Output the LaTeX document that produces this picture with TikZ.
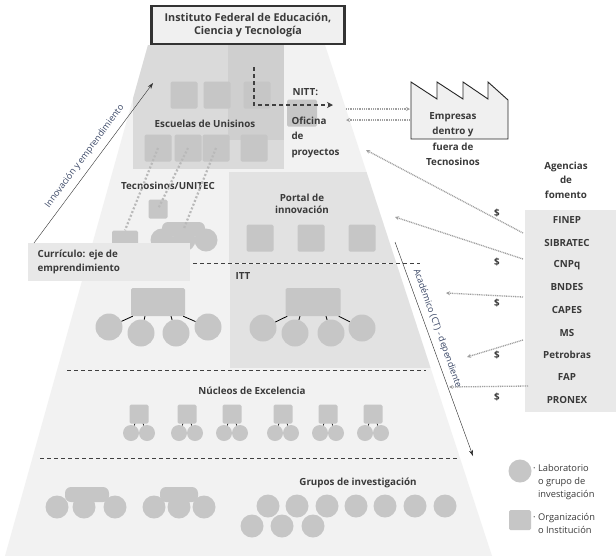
\documentclass[tikz,border=0pt]{standalone}
\usepackage{fontspec}
\setmainfont{Open Sans}
\usetikzlibrary{arrows.meta}
\definecolor{bgA}{HTML}{F2F2F2}
\definecolor{bgB}{HTML}{DADADA}
\definecolor{bgC}{HTML}{CFCFCF}
\definecolor{bgD}{HTML}{E2E2E2}
\definecolor{shp}{HTML}{C6C6C6}
\definecolor{txt}{HTML}{3A3A3A}
\definecolor{blu}{HTML}{3A4766}
\begin{document}
\begin{tikzpicture}[x=1pt,y=-1pt,
  org/.style={rectangle,fill=shp,rounded corners=1.5pt,inner sep=0pt},
  lab/.style={circle,fill=shp,inner sep=0pt,minimum size=#1},
  lab/.default=27pt,
  bt/.style={font=\bfseries\fontsize{9.8}{12}\selectfont,text=txt,align=center},
  bl/.style={font=\bfseries\fontsize{9.8}{15.5}\selectfont,text=txt,align=left},
  dsh/.style={dashed,line width=1pt,dash pattern=on 4pt off 3pt,black!75},
  dot/.style={line width=1.3pt,gray!75,dash pattern=on 1pt off 0.8pt,-{Stealth[length=4pt,width=4pt]}},
  thk/.style={line width=2.2pt,gray!55,dash pattern=on 2pt off 2pt},
  tie/.style={line width=0.8pt,black}]
\useasboundingbox (0,0) rectangle (616,558);
\fill[white] (0,0) rectangle (616,558);
% pyramid
\begin{scope}
\clip (148,45) -- (325,45) -- (492,556) -- (5,556) -- cycle;
\fill[bgA] (0,45) rectangle (616,556);
\fill[bgB] (133,45) rectangle (284,169);
\fill[bgC] (228,45) rectangle (284,140);
\fill[bgD] (229,172) rectangle (616,263);
\fill[bgD] (230,264) rectangle (616,368);
\end{scope}
\draw[dsh] (95,263) -- (420,263);
\draw[dsh] (67,370) -- (426,370);
\draw[dsh] (40,458) -- (459,458);
% title
\node[draw=black!80,line width=2.2pt,fill=gray!12,minimum width=193pt,minimum height=38pt,
  font=\bfseries\fontsize{10.8}{13.5}\selectfont,align=center,text=txt] (title) at (248,25)
  {Instituto Federal de Educación,\\Ciencia y Tecnología};
% escuelas
\foreach \n/\x in {a/184,b/217,c/257}{\node[org,minimum size=27pt] (e\n) at (\x,95) {};}
\foreach \n/\x in {d/158,e/188,f/216,g/254}{\node[org,minimum size=27pt] (e\n) at (\x,148) {};}
\node[bt] (escl) at (205,124) {Escuelas de Unisinos};
\node[org,minimum width=30pt,minimum height=27pt] (nsq) at (302,113) {};
\node[bt,anchor=west] (nitt) at (289,92) {NITT:};
\node[bl,anchor=north west] (ofi) at (288,113) {Oficina\\de\\proyectos};
\coordinate (ds) at (254,67);
\coordinate (dk) at (254,105);
\coordinate (de) at (333,105);
\draw[dsh,line width=1.3pt,-{Stealth[length=6pt,width=6pt]}] (ds) -- (dk) -- (de);
% tecnosinos
\node[bt] (tecl) at (168,186) {Tecnosinos/UNITEC};
\node[org,minimum size=19pt] (tsq) at (158,209) {};
\node[org,minimum width=26pt,minimum height=15pt] (tsm) at (125,238) {};
\fill[shp,rounded corners=6pt] (162,222) rectangle (205,236);
\foreach \n/\x in {1/162,2/184,3/206}{\node[lab=23pt] (tc\n) at (\x,240) {};}
\draw[thk] (ed.center) -- (tsm.north);
\draw[thk] (ee.center) -- (tsq.center);
\draw[thk] (ef.center) -- (tc2.north);
% portal
\node[bt] (port) at (302,204) {Portal de\\innovación};
\foreach \n/\x in {1/260,2/311,3/362}{\node[org,minimum size=27pt] (p\n) at (\x,238) {};}
% curriculo
\node[fill=gray!18,minimum width=162pt,minimum height=38pt,inner sep=0pt] (curb) at (109,262) {};
\node[bl,anchor=west,font=\bfseries\fontsize{9.8}{13.5}\selectfont] (curt) at (34,262) {Currículo: eje de\\emprendimiento};
% innovacion arrow
\coordinate (ia) at (34,243);
\coordinate (ib) at (153,83);
\draw[black!80,-{Stealth[length=6pt,width=4pt]}] (ia) -- (ib)
  node[midway,sloped,above=3pt,font=\fontsize{9}{10}\selectfont,text=blu] {Innovación y emprendimiento};
% ITT
\node[bt,anchor=west] (itt) at (232,276) {ITT};
\node[org,minimum width=54pt,minimum height=28pt] (ir1) at (158,302) {};
\node[org,minimum width=55pt,minimum height=28pt] (ir2) at (313,302) {};
\foreach \n/\x/\y in {1/109/327,2/141/333,3/176/333,4/208/327}{\node[lab] (ia\n) at (\x,\y) {};}
\foreach \n/\x/\y in {1/263/328,2/295/333,3/331/333,4/362/328}{\node[lab] (ib\n) at (\x,\y) {};}
\draw[tie] (ir1.south west)++(2,0) -- (ia1); \draw[tie] (ir1.south east)++(-2,0) -- (ia4);
\draw[tie] (ir1.south)++(-13,0) -- (ia2); \draw[tie] (ir1.south)++(13,0) -- (ia3);
\draw[tie] (ir2.south west)++(2,0) -- (ib1); \draw[tie] (ir2.south east)++(-2,0) -- (ib4);
\draw[tie] (ir2.south)++(-13,0) -- (ib2); \draw[tie] (ir2.south)++(13,0) -- (ib3);
% nucleos
\node[bt] (nucl) at (252,391) {Núcleos de Excelencia};
\foreach \i/\x in {1/139,2/187,3/232,4/283,5/328,6/373}{
  \node[org,minimum size=19pt] (ns\i) at (\x,414) {};
  \node[lab=16pt] (nl\i) at (\x-8,433) {};
  \node[lab=16pt] (nr\i) at (\x+8,433) {};
  \draw[tie,line width=0.6pt] (ns\i.south)++(-4,0) -- (nl\i);
  \draw[tie,line width=0.6pt] (ns\i.south)++(4,0) -- (nr\i);
}
% grupos
\node[bt] (grpl) at (358,483) {Grupos de investigación};
\fill[shp,rounded corners=6pt] (65,487) rectangle (109,502);
\fill[shp,rounded corners=6pt] (160,487) rectangle (198,502);
\foreach \n/\x in {1/57,2/84,3/115,4/154,5/179,6/204}{\node[lab=23pt] (g\n) at (\x,507) {};}
\foreach \n/\x in {1/268,2/297,3/327,4/356,5/385,6/415,7/445}{\node[lab=23pt] (gt\n) at (\x,506) {};}
\foreach \n/\x in {1/252,2/282,3/313}{\node[lab=23pt] (gb\n) at (\x,526) {};}
% legend
\node[lab=23pt] (lc) at (520,471) {};
\node[org,minimum width=22pt,minimum height=20pt] (ls) at (520,520) {};
\node[anchor=north west,font=\fontsize{9.3}{13}\selectfont,text=txt,align=left,inner sep=0pt] (lct) at (533,464) {· Laboratorio\\\phantom{· }o grupo de\\\phantom{· }investigación};
\node[anchor=north west,font=\fontsize{9.3}{13}\selectfont,text=txt,align=left,inner sep=0pt] (lst) at (533,513) {· Organización\\\phantom{· }o Institución};
% factory
\draw[black!85,line width=0.9pt,fill=gray!12] (411,82) -- (437,99) -- (437,82) -- (463,99) -- (463,82) -- (488,99) -- (488,82) -- (508,100) -- (508,139) -- (411,139) -- cycle;
\node[bt,font=\bfseries\fontsize{9.8}{15.5}\selectfont] (emp) at (453,139) {Empresas\\dentro y\\fuera de\\Tecnosinos};
\coordinate (f1) at (410,109);
\coordinate (f2) at (410,120);
\coordinate (o1) at (346,109);
\coordinate (o2) at (346,120);
\draw[dot] (o1) -- (f1);
\draw[dot] (f2) -- (o2);
% agencies
\node[bt,font=\bfseries\fontsize{9.8}{14.5}\selectfont] (agt) at (566,180) {Agencias\\de\\fomento};
\node[fill=gray!17,minimum width=92pt,minimum height=202pt,inner sep=0pt] (agb) at (571,311) {};
\foreach \t/\y in {FINEP/220,SIBRATEC/243,CNPq/265,BNDES/287,CAPES/310,MS/333,Petrobras/355,FAP/377,PRONEX/400}
  {\node[bt] at (567,\y) {\t};}
\foreach \y in {213,262,303,355,397}{\node[bt] at (497,\y) {\$};}
\coordinate (s1) at (523,233); \coordinate (t1) at (366,150);
\coordinate (s2) at (523,259); \coordinate (t2) at (395,217);
\coordinate (s3) at (523,297); \coordinate (t3) at (446,293);
\coordinate (s4) at (523,340); \coordinate (t4) at (467,357);
\coordinate (s5) at (528,386); \coordinate (t5) at (449,387);
\foreach \i in {1,...,5}{\draw[dot] (s\i) -- (t\i);}
% academico
\coordinate (aa) at (395,242);
\coordinate (ab) at (473,456);
\draw[black!85,-{Stealth[length=6pt,width=4pt]}] (aa) -- (ab)
  node[pos=0.42,sloped,above=2pt,font=\fontsize{9}{10}\selectfont,text=blu] {Académico (CT) - dependiente};
\end{tikzpicture}
\end{document}
